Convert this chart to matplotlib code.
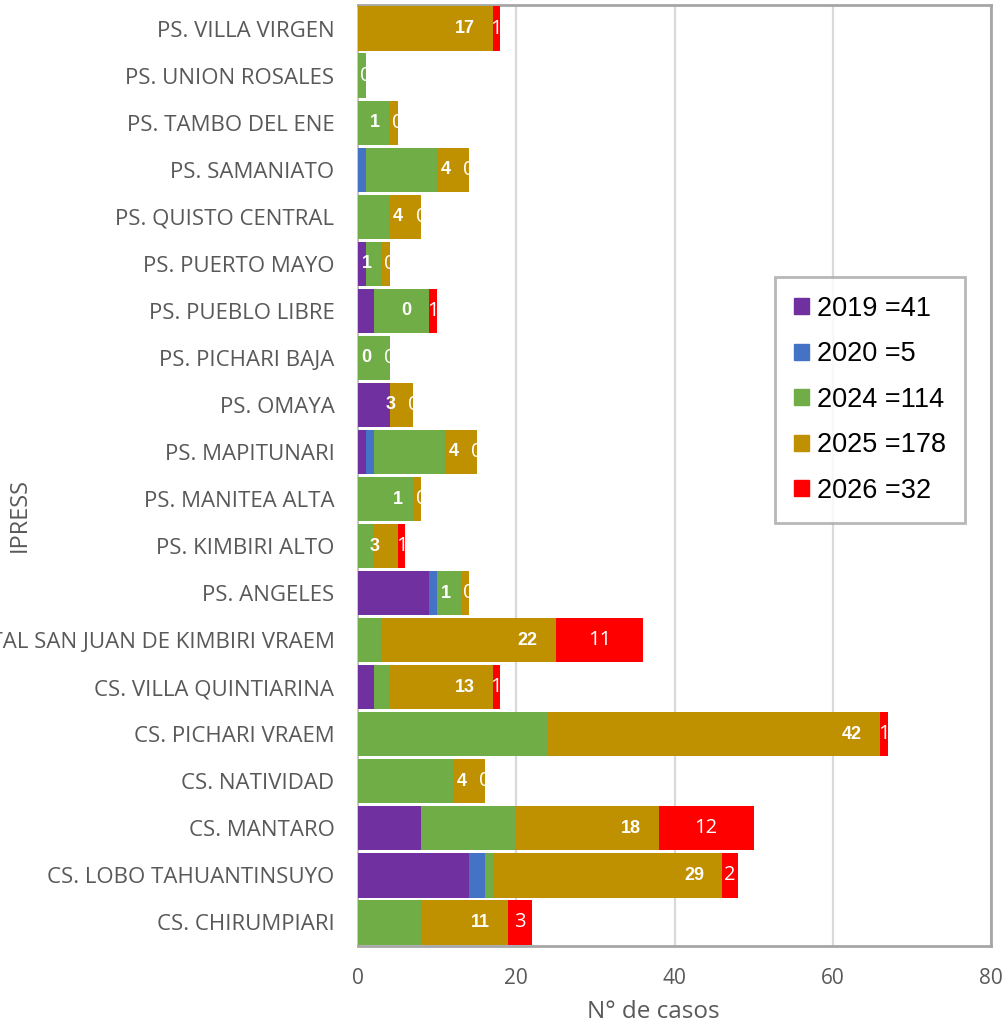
import matplotlib
matplotlib.use("Agg")
import matplotlib.pyplot as plt
from matplotlib.patches import Patch
import numpy as np

# Establishments, listed from the bottom row to the top row
ipress = [
    "CS. CHIRUMPIARI",
    "CS. LOBO TAHUANTINSUYO",
    "CS. MANTARO",
    "CS. NATIVIDAD",
    "CS. PICHARI VRAEM",
    "CS. VILLA QUINTIARINA",
    "HOSPITAL SAN JUAN DE KIMBIRI VRAEM",
    "PS. ANGELES",
    "PS. KIMBIRI ALTO",
    "PS. MANITEA ALTA",
    "PS. MAPITUNARI",
    "PS. OMAYA",
    "PS. PICHARI BAJA",
    "PS. PUEBLO LIBRE",
    "PS. PUERTO MAYO",
    "PS. QUISTO CENTRAL",
    "PS. SAMANIATO",
    "PS. TAMBO DEL ENE",
    "PS. UNION ROSALES",
    "PS. VILLA VIRGEN",
]

casos_2019 = [0, 14, 8, 0, 0, 2, 0, 9, 0, 0, 1, 4, 0, 2, 1, 0, 0, 0, 0, 0]
casos_2020 = [0, 2, 0, 0, 0, 0, 0, 1, 0, 0, 1, 0, 0, 0, 0, 0, 1, 0, 0, 0]
casos_2024 = [8, 1, 12, 12, 24, 2, 3, 3, 2, 7, 9, 0, 4, 7, 2, 4, 9, 4, 1, 0]
casos_2025 = [11, 29, 18, 4, 42, 13, 22, 1, 3, 1, 4, 3, 0, 0, 1, 4, 4, 1, 0, 17]
casos_2026 = [3, 2, 12, 0, 1, 1, 11, 0, 1, 0, 0, 0, 0, 1, 0, 0, 0, 0, 0, 1]

legend_labels = ["2019 =41", "2020 =5", "2024 =114", "2025 =178", "2026 =32"]
x_ticks = [0, 20, 40, 60, 80]

series = [casos_2019, casos_2020, casos_2024, casos_2025, casos_2026]
colors = ["#7030A0", "#4472C4", "#70AD47", "#BF9000", "#FF0000"]

fig = plt.figure(figsize=(10.07, 10.25), dpi=100)
ax = fig.add_axes([358 / 1007, 1 - 946 / 1025, (991 - 358) / 1007, (946 - 5) / 1025])

y = np.arange(len(ipress))
left = np.zeros(len(ipress))
segments = []
for vals, col in zip(series, colors):
    vals = np.array(vals, dtype=float)
    ax.barh(y, vals, left=left, height=0.94, color=col, zorder=3)
    segments.append((left.copy(), vals))
    left += vals

# 2025 labels: bold, inside the end of the segment
l25, v25 = segments[3]
for yi, (l, v) in enumerate(zip(l25, v25)):
    ax.annotate(f"{int(v)}", xy=(l + v, yi), xytext=(-13, 0), textcoords="offset points",
                ha="right", va="center", color="white", fontsize=13, fontweight="bold",
                family="Liberation Sans", zorder=5, annotation_clip=False, clip_on=True)

# 2026 labels: centred on the segment
l26, v26 = segments[4]
for yi, (l, v) in enumerate(zip(l26, v26)):
    ax.text(l + v / 2, yi, f"{int(v)}", ha="center", va="center", color="white",
            fontsize=14.5, family="Open Sans", zorder=5, clip_on=True)

ax.set_xlim(0, 80)
ax.set_ylim(-0.5, len(ipress) - 0.5)
ax.set_xticks(x_ticks)
ax.set_yticks(y)
ax.set_yticklabels(ipress)
ax.tick_params(axis="y", length=0, pad=17, labelsize=16, labelcolor="#595959")
ax.tick_params(axis="x", length=0, pad=16, labelsize=15, labelcolor="#595959")
for lbl in ax.get_xticklabels() + ax.get_yticklabels():
    lbl.set_family("Open Sans")

ax.grid(axis="x", color="#D9D9D9", linewidth=1.6, zorder=0)
ax.set_axisbelow(True)
for s in ax.spines.values():
    s.set_color("#A6A6A6")
    s.set_linewidth(2)
ax.spines["left"].set_color("#BFBFBF")
ax.spines["left"].set_linewidth(1.2)

ax.set_xlabel("N° de casos", fontsize=17.5, color="#595959", family="Open Sans")
ax.xaxis.set_label_coords(0.466, -0.057)
fig.text(20 / 1007, 1 - 515 / 1025, "IPRESS", rotation=90, ha="center", va="center",
         fontsize=17, color="#595959", family="Open Sans")

handles = [Patch(facecolor=c, edgecolor=c) for c in colors]
leg = ax.legend(handles, legend_labels, loc="upper left", bbox_to_anchor=(0.659, 0.711),
                borderaxespad=0, frameon=True, fancybox=False, handlelength=0.55,
                handleheight=0.55, handletextpad=0.3, labelspacing=0.72,
                borderpad=0.7, prop={"family": "Liberation Sans", "size": 19.5})
leg.get_frame().set_edgecolor("#A6A6A6")
leg.get_frame().set_linewidth(2)
leg.set_zorder(6)

fig.savefig("out.png", dpi=100)
